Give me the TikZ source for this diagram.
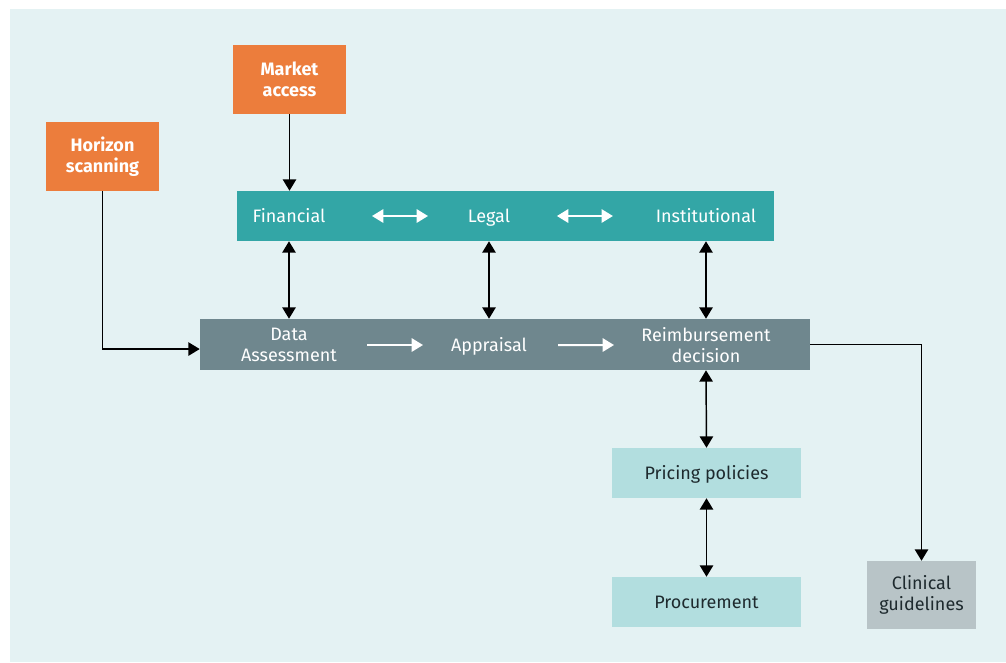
\documentclass[tikz,border=0pt]{standalone}
\usepackage{fontspec}
\setmainfont{Fira Sans}
\usetikzlibrary{arrows.meta,calc}
\definecolor{panelbg}{HTML}{E4F2F3}
\definecolor{orangebox}{HTML}{EC7D3C}
\definecolor{tealbar}{HTML}{33A6A6}
\definecolor{greybar}{HTML}{6F878E}
\definecolor{lightteal}{HTML}{B2DEDF}
\definecolor{lightgrey}{HTML}{B8C4C7}
\definecolor{darktext}{HTML}{1E2A2E}
\begin{document}
\begin{tikzpicture}[x=0.75pt,y=-0.75pt,
  every node/.style={font=\fontsize{13.5}{16}\selectfont, align=center, inner sep=0pt},
  orangenode/.style={fill=orangebox, text=white, font=\fontsize{13.5}{16}\selectfont\bfseries,
    minimum width=84.75pt, minimum height=51.75pt},
  barlabel/.style={text=white},
  oneline/.style={text height=10pt, text depth=0pt},
  lightnode/.style={fill=lightteal, text=darktext, minimum width=141.75pt, minimum height=37.5pt},
  arr/.style={draw=black, line width=1.1pt, -{Triangle[length=8.5pt,width=10pt]}},
  dblarr/.style={draw=black, line width=1.1pt, {Triangle[length=8.5pt,width=10pt]}-{Triangle[length=8.5pt,width=10pt]}},
  warr/.style={draw=white, line width=1.5pt, -{Triangle[length=8.5pt,width=10pt]}},
  wdblarr/.style={draw=white, line width=1.5pt, {Triangle[length=8.5pt,width=10pt]}-{Triangle[length=8.5pt,width=10pt]}}
]
% page and panel
\useasboundingbox (0,0) rectangle (1006,662);
\fill[white] (0,0) rectangle (1006,662);
\fill[panelbg] (10,9) rectangle (1006,662);

% input boxes
\node[orangenode] (ma) at (289.5,79.5) {Market\\access};
\node[orangenode] (hs) at (102.5,156.5) {Horizon\\scanning};

% context bar
\node[fill=tealbar, minimum width=402.75pt, minimum height=37.5pt] (teal) at (505.5,216) {};
\node[barlabel, oneline] (fin) at (289,216) {Financial};
\node[barlabel, oneline] (legal) at (489,216) {Legal};
\node[barlabel, oneline] (inst) at (706,216) {Institutional};

% process bar
\node[fill=greybar, minimum width=457.5pt, minimum height=38.25pt] (grey) at (505,344.5) {};
\node[barlabel] (data) at (289,345) {Data\\Assessment};
\node[barlabel, oneline] (appr) at (489,345) {Appraisal};
\node[barlabel] (reimb) at (706,345) {Reimbursement\\decision};

% downstream boxes
\node[lightnode, oneline] (pp) at (706.5,473) {Pricing policies};
\node[lightnode, oneline] (proc) at (706.5,602) {Procurement};
\node[fill=lightgrey, text=darktext, minimum width=81.75pt, minimum height=51pt] (cg) at (921.5,595) {Clinical\\guidelines};

% white arrows inside the bars
\draw[wdblarr] ($(fin)!0.415!(legal)$) -- ($(fin)!0.695!(legal)$);
\draw[wdblarr] ($(legal)!0.313!(inst)$) -- ($(legal)!0.571!(inst)$);
\draw[warr] ($(data)!0.39!(appr)$) -- ($(data)!0.67!(appr)$);
\draw[warr] ($(appr)!0.318!(reimb)$) -- ($(appr)!0.576!(reimb)$);

% connectors
\draw[arr] (ma.south) -- (ma.south |- teal.north);
\draw[arr] (hs.south) |- ([yshift=-3.4pt]grey.west);
\draw[dblarr] (fin |- teal.south) -- (fin |- grey.north);
\draw[dblarr] (legal |- teal.south) -- (legal |- grey.north);
\draw[dblarr] (inst |- teal.south) -- (inst |- grey.north);
\draw[dblarr] (reimb |- grey.south) -- (pp.north);
\draw[dblarr] (pp.south) -- (proc.north);
\draw[arr] (grey.east) -| (cg.north);
\end{tikzpicture}
\end{document}
